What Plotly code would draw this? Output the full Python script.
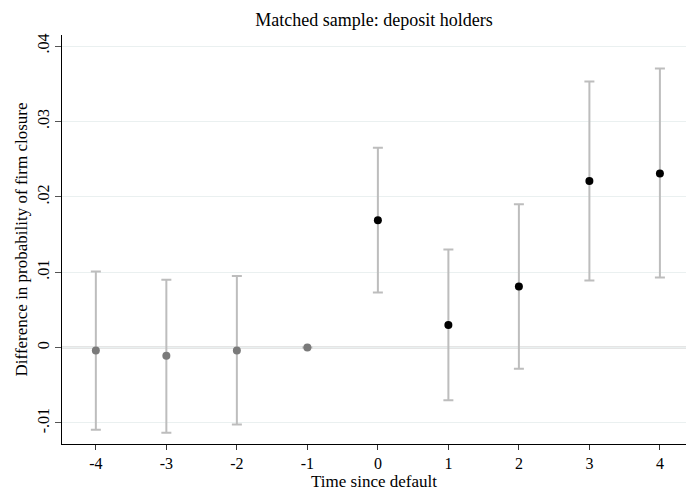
import plotly.graph_objects as go

periods = [-4, -3, -2, -1, 0, 1, 2, 3, 4]
estimate = [-0.0004, -0.0011, -0.0004, 0.0, 0.0169, 0.0030, 0.0081, 0.0221, 0.0231]
ci_upper = [0.0101, 0.0090, 0.0095, None, 0.0265, 0.0130, 0.0190, 0.0353, 0.0370]
ci_lower = [-0.0109, -0.0113, -0.0102, None, 0.0073, -0.0070, -0.0028, 0.0089, 0.0093]
y_ticks = [-0.01, 0, 0.01, 0.02, 0.03, 0.04]
y_ticklabels = ["-.01", "0", ".01", ".02", ".03", ".04"]

FONT = "Liberation Serif"

fig = go.Figure()

# split into pre (gray) and post (black)
for sel, color in [(lambda p: p < 0, "#7a7a7a"), (lambda p: p >= 0, "#000000")]:
    xs, ys, up, dn = [], [], [], []
    for p, e, u, l in zip(periods, estimate, ci_upper, ci_lower):
        if sel(p):
            xs.append(p)
            ys.append(e)
            up.append((u - e) if u is not None else 0)
            dn.append((e - l) if l is not None else 0)
    fig.add_trace(go.Scatter(
        x=xs, y=ys, mode="markers",
        marker=dict(color=color, size=8),
        error_y=dict(type="data", symmetric=False, array=up, arrayminus=dn,
                     color="#bdbdbd", thickness=2, width=5),
        showlegend=False,
    ))

fig.add_hline(y=0, line=dict(color="#cccccc", width=2), layer="below")

fig.update_layout(
    width=686, height=493,
    margin=dict(l=62, r=0, t=35, b=49),
    paper_bgcolor="white", plot_bgcolor="white",
    font=dict(family=FONT, color="#000000", size=16),
    title=dict(text="Matched sample: deposit holders", x=0.5, xref="paper", xanchor="center",
               y=1 - 20 / 493, yanchor="middle", font=dict(size=18, family=FONT)),
    xaxis=dict(
        range=[-4.48, 4.37], tickvals=periods, ticktext=[str(p) for p in periods],
        showgrid=False, zeroline=False, showline=True, linecolor="#000000", linewidth=1,
        ticks="outside", ticklen=5, tickcolor="#333333",
        title=dict(text="Time since default", font=dict(size=17), standoff=2),
    ),
    yaxis=dict(
        range=[-0.01279, 0.04146], tickvals=y_ticks, ticktext=y_ticklabels,
        tickangle=-90, showgrid=True, gridcolor="#eaf0f0", gridwidth=1,
        zeroline=False, showline=True, linecolor="#000000", linewidth=1,
        ticks="outside", ticklen=6, tickcolor="#555555",
        title=dict(text="Difference in probability of firm closure", font=dict(size=17), standoff=2),
    ),
)

fig.write_html("out.html")
